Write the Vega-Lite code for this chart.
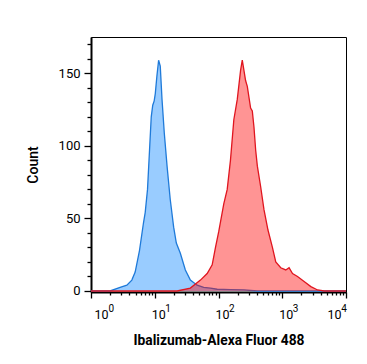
{
  "$schema": "https://vega.github.io/schema/vega-lite/v6.json",
  "width": 255,
  "height": 255,
  "autosize": {"type": "none"},
  "padding": {"left": 91, "top": 37, "right": 21, "bottom": 72},
  "config": {
    "font": "Roboto",
    "view": {"stroke": "black", "strokeWidth": 1},
    "axis": {
      "domainColor": "black",
      "domainWidth": 2,
      "tickColor": "black",
      "tickWidth": 1.3,
      "labelColor": "black",
      "labelFont": "Roboto",
      "labelFontSize": 13,
      "titleColor": "black",
      "titleFont": "Roboto",
      "grid": false,
      "labelOverlap": false,
      "labelBound": false
    }
  },
  "data": {
    "values": [
      {"s": "iso", "x": 1, "count": 0},
      {"s": "iso", "x": 1.99, "count": 0},
      {"s": "iso", "x": 2.86, "count": 2.5},
      {"s": "iso", "x": 3.65, "count": 4},
      {"s": "iso", "x": 4.37, "count": 7.5},
      {"s": "iso", "x": 4.93, "count": 13},
      {"s": "iso", "x": 5.77, "count": 28},
      {"s": "iso", "x": 6.66, "count": 47},
      {"s": "iso", "x": 7.08, "count": 54},
      {"s": "iso", "x": 7.7, "count": 70},
      {"s": "iso", "x": 8.28, "count": 97},
      {"s": "iso", "x": 8.81, "count": 120},
      {"s": "iso", "x": 9.3, "count": 128},
      {"s": "iso", "x": 9.8, "count": 131},
      {"s": "iso", "x": 10.2, "count": 136},
      {"s": "iso", "x": 10.8, "count": 148},
      {"s": "iso", "x": 11.5, "count": 159},
      {"s": "iso", "x": 12.2, "count": 155},
      {"s": "iso", "x": 13.0, "count": 132},
      {"s": "iso", "x": 14.1, "count": 109},
      {"s": "iso", "x": 15.6, "count": 86},
      {"s": "iso", "x": 17.5, "count": 63},
      {"s": "iso", "x": 19.8, "count": 44},
      {"s": "iso", "x": 21.8, "count": 33},
      {"s": "iso", "x": 25.2, "count": 26},
      {"s": "iso", "x": 30.2, "count": 14.5},
      {"s": "iso", "x": 36.2, "count": 7.5},
      {"s": "iso", "x": 46.2, "count": 4},
      {"s": "iso", "x": 58.7, "count": 2.5},
      {"s": "iso", "x": 74.8, "count": 2},
      {"s": "iso", "x": 95.4, "count": 1.2},
      {"s": "iso", "x": 154, "count": 1},
      {"s": "iso", "x": 250, "count": 0.8},
      {"s": "iso", "x": 407, "count": 0},
      {"s": "iso", "x": 10000, "count": 0},
      {"s": "iba", "x": 1, "count": 0},
      {"s": "iba", "x": 22.4, "count": 0},
      {"s": "iba", "x": 36.2, "count": 2},
      {"s": "iba", "x": 52.1, "count": 7.5},
      {"s": "iba", "x": 66.4, "count": 12},
      {"s": "iba", "x": 79.6, "count": 18},
      {"s": "iba", "x": 89.7, "count": 30},
      {"s": "iba", "x": 101, "count": 41},
      {"s": "iba", "x": 121, "count": 60},
      {"s": "iba", "x": 137, "count": 70},
      {"s": "iba", "x": 154, "count": 90},
      {"s": "iba", "x": 174, "count": 118},
      {"s": "iba", "x": 197, "count": 132},
      {"s": "iba", "x": 222, "count": 152},
      {"s": "iba", "x": 236, "count": 159},
      {"s": "iba", "x": 266, "count": 145},
      {"s": "iba", "x": 283, "count": 141},
      {"s": "iba", "x": 319, "count": 126},
      {"s": "iba", "x": 339, "count": 124},
      {"s": "iba", "x": 360, "count": 113},
      {"s": "iba", "x": 383, "count": 97},
      {"s": "iba", "x": 407, "count": 86},
      {"s": "iba", "x": 458, "count": 72},
      {"s": "iba", "x": 517, "count": 56},
      {"s": "iba", "x": 597, "count": 42},
      {"s": "iba", "x": 701, "count": 30},
      {"s": "iba", "x": 791, "count": 20},
      {"s": "iba", "x": 947, "count": 16},
      {"s": "iba", "x": 1135, "count": 14.5},
      {"s": "iba", "x": 1279, "count": 16},
      {"s": "iba", "x": 1449, "count": 12},
      {"s": "iba", "x": 1735, "count": 10},
      {"s": "iba", "x": 2203, "count": 6.5},
      {"s": "iba", "x": 2811, "count": 3},
      {"s": "iba", "x": 3583, "count": 0.7},
      {"s": "iba", "x": 4550, "count": 0},
      {"s": "iba", "x": 10000, "count": 0}
    ]
  },
  "encoding": {
    "y": {
      "field": "count",
      "type": "quantitative",
      "scale": {"domain": [-0.7, 175], "nice": false, "zero": false},
      "axis": {
        "title": "Count",
        "titleFontSize": 14,
        "titleFontWeight": 500,
        "titlePadding": 18,
        "values": [0,10,20,30,40,50,60,70,80,90,100,110,120,130,140,150,160,170],
        "labelExpr": "datum.value % 50 == 0 ? datum.label : ''",
        "tickSize": {"condition": {"test": "datum.value % 50 == 0", "value": 7}, "value": 4},
        "labelPadding": 4
      }
    }
  },
  "layer": [
    {
      "transform": [{"filter": "datum.s == 'iso'"}],
      "mark": {"type": "area", "color": "#1f7ad9", "fill": "#99ccff", "fillOpacity": 1, "line": {"color": "#1f7ad9", "strokeWidth": 1.3}},
      "encoding": {
        "x": {
          "field": "x",
          "type": "quantitative",
          "scale": {"type": "log", "domain": [1, 10000], "nice": false},
          "axis": {
            "orient": "bottom",
            "title": "Ibalizumab-Alexa Fluor 488",
            "titleFontSize": 13.8,
            "titleFontWeight": "bold",
            "titlePadding": 13,
            "values": [1,2,3,4,5,6,7,8,9,10,20,30,40,50,60,70,80,90,100,200,300,400,500,600,700,800,900,1000,2000,3000,4000,5000,6000,7000,8000,9000,10000],
            "labelExpr": "indexof([1,10,100,1000,10000], datum.value) >= 0 ? '10' : ''",
            "tickSize": {"condition": {"test": "indexof([1,10,100,1000,10000], datum.value) >= 0", "value": 6}, "value": 3},
            "labelAlign": "left",
            "labelOffset": {"condition": [{"test": "datum.value == 1", "value": 3}, {"test": "datum.value == 10000", "value": -19}], "value": -3.5},
            "labelBaseline": "alphabetic",
            "labelFontSize": 12.5,
            "labelFlush": false,
            "labelPadding": 20
          }
        }
      }
    },
    {
      "transform": [{"filter": "datum.s == 'iba'"}],
      "mark": {"type": "area", "color": "#e0151f", "fill": "#ff0000", "fillOpacity": 0.42, "line": {"color": "#e0151f", "strokeWidth": 1.3}},
      "encoding": {
        "x": {
          "field": "x",
          "type": "quantitative",
          "axis": {
            "orient": "bottom",
            "title": null,
            "domain": false,
            "ticks": false,
            "values": [1, 10, 100, 1000, 10000],
            "labelExpr": "datum.value == 1 ? '0' : datum.value == 10 ? '1' : datum.value == 100 ? '2' : datum.value == 1000 ? '3' : '4'",
            "labelAlign": "left",
            "labelOffset": {"condition": [{"test": "datum.value == 1", "value": 17}, {"test": "datum.value == 10000", "value": -5.3}], "value": 10},
            "labelBaseline": "alphabetic",
            "labelFontSize": 10,
            "labelFlush": false,
            "labelPadding": 19.5
          }
        }
      }
    }
  ],
  "resolve": {"axis": {"x": "independent"}}
}
